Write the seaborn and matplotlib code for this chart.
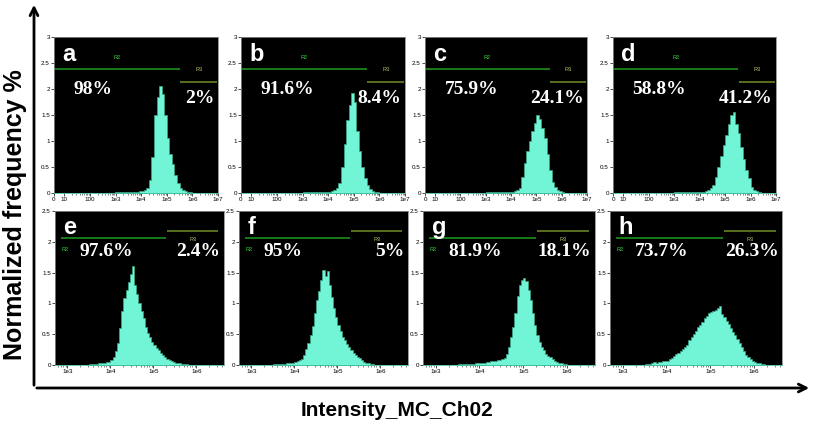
import numpy as np
import pandas as pd
import matplotlib
matplotlib.use("Agg")
import matplotlib.pyplot as plt
import matplotlib.ticker as mticker
from matplotlib.patches import FancyArrowPatch
import seaborn as sns


# ======================================================
# Data
# ======================================================
letters = ["a", "b", "c", "d", "e", "f", "g", "h"]
left_pct = ["98%", "91.6%", "75.9%", "58.8%", "97.6%", "95%", "81.9%", "73.7%"]
right_pct = ["2%", "8.4%", "24.1%", "41.2%", "2.4%", "5%", "18.1%", "26.3%"]

# top row: bins of 0.1 decade starting at 1e3
top_log_start, top_log_step = 3.0, 0.1
hist_a = [0.01, 0.01, 0.01, 0.01, 0.02, 0.01, 0.02, 0.02, 0.02, 0.03,
          0.03, 0.05, 0.1, 0.25, 0.7, 1.5, 1.85, 2.05, 1.9, 1.5,
          1.05, 0.75, 0.55, 0.35, 0.2, 0.1, 0.05, 0.03, 0.02, 0.01]
hist_b = [0.01, 0.01, 0.01, 0.01, 0.01, 0.02, 0.02, 0.02, 0.02, 0.02,
          0.02, 0.03, 0.05, 0.1, 0.2, 0.5, 0.95, 1.4, 1.7, 1.92,
          1.75, 1.2, 0.8, 0.5, 0.28, 0.15, 0.08, 0.04, 0.02, 0.01]
hist_c = [0.01, 0.01, 0.01, 0.01, 0.01, 0.01, 0.02, 0.02, 0.02, 0.02,
          0.02, 0.03, 0.05, 0.1, 0.3, 0.58, 0.8, 1.0, 1.2, 1.35,
          1.5, 1.42, 1.25, 1.05, 0.75, 0.45, 0.22, 0.12, 0.06, 0.03, 0.01]
hist_d = [0.01, 0.01, 0.01, 0.01, 0.01, 0.01, 0.01, 0.02, 0.02, 0.02,
          0.02, 0.02, 0.03, 0.05, 0.09, 0.15, 0.3, 0.5, 0.72, 0.92,
          1.12, 1.33, 1.5, 1.55, 1.32, 1.15, 0.88, 0.65, 0.45, 0.28,
          0.12, 0.06, 0.03, 0.01]

# bottom row: bins of 0.05 decade starting at 10**3.5
bot_log_start, bot_log_step = 3.5, 0.05
hist_e = [0.01, 0.01, 0.02, 0.02, 0.03, 0.03, 0.04, 0.04, 0.05, 0.05,
          0.08, 0.13, 0.22, 0.36, 0.6, 0.88, 1.08, 1.22, 1.35, 1.47,
          1.6, 1.3, 1.15, 1.0, 0.88, 0.76, 0.62, 0.52, 0.45, 0.38,
          0.33, 0.28, 0.24, 0.2, 0.16, 0.13, 0.1, 0.08, 0.06, 0.05,
          0.04, 0.03, 0.03, 0.02, 0.02, 0.01]
hist_f = [0.01, 0.01, 0.02, 0.02, 0.02, 0.02, 0.03, 0.03, 0.04, 0.04,
          0.05, 0.06, 0.08, 0.1, 0.16, 0.26, 0.36, 0.48, 0.64, 0.85,
          1.05, 1.2, 1.38, 1.55, 1.45, 1.52, 1.3, 1.1, 0.92, 0.78,
          0.65, 0.55, 0.46, 0.4, 0.34, 0.29, 0.24, 0.2, 0.16, 0.13,
          0.11, 0.08, 0.05, 0.04, 0.03, 0.02, 0.01]
hist_g = [0.01, 0.01, 0.01, 0.01, 0.02, 0.02, 0.02, 0.02, 0.03, 0.03,
          0.03, 0.04, 0.04, 0.05, 0.05, 0.06, 0.06, 0.07, 0.08, 0.08,
          0.09, 0.12, 0.18, 0.3, 0.45, 0.62, 0.85, 1.12, 1.3, 1.38,
          1.42, 1.36, 1.22, 1.05, 0.85, 0.65, 0.48, 0.38, 0.3, 0.24,
          0.18, 0.15, 0.13, 0.09, 0.07, 0.05, 0.04, 0.03, 0.02, 0.01]
hist_h = [0.01, 0.01, 0.02, 0.03, 0.05, 0.04, 0.05, 0.05, 0.06, 0.07,
          0.07, 0.09, 0.11, 0.14, 0.18, 0.2, 0.23, 0.26, 0.29, 0.33,
          0.4, 0.45, 0.5, 0.56, 0.61, 0.65, 0.7, 0.76, 0.8, 0.84,
          0.86, 0.88, 0.9, 0.92, 0.95, 0.82, 0.78, 0.72, 0.66, 0.6,
          0.53, 0.48, 0.42, 0.36, 0.29, 0.22, 0.17, 0.13, 0.1, 0.07,
          0.05, 0.04, 0.03, 0.02, 0.01]

histograms = [hist_a, hist_b, hist_c, hist_d, hist_e, hist_f, hist_g, hist_h]

# gates: (start, end, level)
top_r2 = (0, 10 ** 5.52, 2.38)
top_r3 = (10 ** 5.53, 10 ** 6.96, 2.13)
bot_r2 = (10 ** 2.85, 10 ** 5.29, 2.06)
bot_r3 = (10 ** 5.32, 10 ** 6.5, 2.18)

top_xticks = [0, 10, 100, 1e3, 1e4, 1e5, 1e6, 1e7]
top_xlabels = ["0", "10", "100", "1e3", "1e4", "1e5", "1e6", "1e7"]
bot_xticks = [1e3, 1e4, 1e5, 1e6]
bot_xlabels = ["1e3", "1e4", "1e5", "1e6"]
top_yticks = [0, 0.5, 1, 1.5, 2, 2.5, 3]
bot_yticks = [0, 0.5, 1, 1.5, 2, 2.5]


# ======================================================
# Style
# ======================================================
sns.set_theme(style="white")
plt.rcParams["font.family"] = ["Liberation Sans", "DejaVu Sans"]
plt.rcParams["text.color"] = "black"

CYAN = "#72f5d6"
EDGE = "#3aa888"
R2_COLOR = "#1f9a1f"
R3_COLOR = "#6f8f25"
R2_TEXT = "#33dd33"
R3_TEXT = "#c4c46a"
SERIF = ["Liberation Serif", "DejaVu Serif"]

fig = plt.figure(figsize=(8.14, 4.28), dpi=100)
W, H = 814, 428

# panel boxes in pixels: left, top, right, bottom
top_boxes = [(54, 37, 218, 193), (241, 37, 405, 193),
             (425, 37, 587, 193), (613, 37, 776, 193)]
bot_boxes = [(55, 211, 224, 365), (239, 211, 408, 365),
             (423, 211, 595, 365), (610, 211, 782, 365)]
boxes = top_boxes + bot_boxes


def xfrac(ax, x):
    return ax.transAxes.inverted().transform(ax.transData.transform((x, 0)))[0]


for i, (l, t, r, b) in enumerate(boxes):
    top = i < 4
    ax = fig.add_axes([l / W, 1 - b / H, (r - l) / W, (b - t) / H])
    ax.set_facecolor("black")

    heights = histograms[i]
    start, step = (top_log_start, top_log_step) if top else (bot_log_start, bot_log_step)
    edges = 10 ** (start + step * np.arange(len(heights) + 1))
    df = pd.DataFrame({"intensity": np.sqrt(edges[:-1] * edges[1:]),
                       "freq": heights})
    sns.histplot(data=df, x="intensity", weights="freq", bins=list(edges),
                 element="step", fill=True, color=CYAN, alpha=1,
                 linewidth=0.5, edgecolor=EDGE, ax=ax)
    ax.set_xlabel("")
    ax.set_ylabel("")

    if top:
        ax.set_xscale("symlog", linthresh=10, linscale=0.36)
        ax.set_xlim(0, 1e7)
        ax.set_ylim(0, 3)
        ax.set_xticks(top_xticks)
        ax.set_xticklabels(top_xlabels)
        ax.xaxis.set_minor_locator(mticker.FixedLocator(
            [m * 10 ** k for k in range(1, 7) for m in range(2, 10)]))
        ax.set_yticks(top_yticks)
        r2, r3 = top_r2, top_r3
    else:
        ax.set_xscale("log")
        ax.set_xlim(10 ** 2.71, 10 ** 6.64)
        ax.set_ylim(0, 2.5)
        ax.set_xticks(bot_xticks)
        ax.set_xticklabels(bot_xlabels)
        ax.xaxis.set_minor_locator(mticker.LogLocator(base=10, subs=np.arange(2, 10)))
        ax.xaxis.set_minor_formatter(mticker.NullFormatter())
        ax.set_yticks(bot_yticks)
        r2, r3 = bot_r2, bot_r3
    ax.yaxis.set_major_formatter(mticker.FormatStrFormatter("%g"))

    ax.tick_params(axis="both", which="major", labelsize=4.5, length=2,
                   width=0.5, pad=1, colors="black", bottom=True, left=True)
    ax.tick_params(axis="x", which="minor", length=1.2, width=0.4, bottom=True)
    for sp in ax.spines.values():
        sp.set_color("#8a8a8a")
        sp.set_linewidth(0.6)
    ax.spines["bottom"].set_color("#3fbf9f")

    # gates
    ax.hlines(r2[2], r2[0], r2[1], color=R2_COLOR, lw=1.1)
    ax.hlines(r3[2], r3[0], r3[1], color=R3_COLOR, lw=1.1)
    f3 = (xfrac(ax, r3[0]) + xfrac(ax, r3[1])) / 2
    f2 = (xfrac(ax, r2[0]) + xfrac(ax, r2[1])) / 2
    trans = ax.get_yaxis_transform()
    if top:
        ax.text(f2, r2[2] + 0.23, "R2", color=R2_TEXT, fontsize=4,
                ha="center", va="center", transform=trans)
        ax.text(f3, r3[2] + 0.25, "R3", color=R3_TEXT, fontsize=4,
                ha="center", va="center", transform=trans)
        ax.text(0.12, 2.0, left_pct[i], color="white", fontsize=14,
                fontweight="bold", family=SERIF, ha="left", va="center",
                transform=trans)
        ax.text(0.98, 1.82, right_pct[i], color="white", fontsize=14,
                fontweight="bold", family=SERIF, ha="right", va="center",
                transform=trans)
    else:
        ax.text(0.06, r2[2] - 0.18, "R2", color=R2_TEXT, fontsize=4,
                ha="center", va="center", transform=trans)
        ax.text(f3, r3[2] - 0.15, "R3", color=R3_TEXT, fontsize=4,
                ha="center", va="center", transform=trans)
        ax.text(0.145, 1.84, left_pct[i], color="white", fontsize=14,
                fontweight="bold", family=SERIF, ha="left", va="center",
                transform=trans)
        ax.text(0.98, 1.84, right_pct[i], color="white", fontsize=14,
                fontweight="bold", family=SERIF, ha="right", va="center",
                transform=trans)

    ax.text(0.05, 0.89, letters[i], color="white", fontsize=17,
            fontweight="bold", ha="left", va="center", transform=ax.transAxes)


# ======================================================
# Big axis arrows and labels
# ======================================================
corner = (34 / W, 1 - 388 / H)
fig.add_artist(FancyArrowPatch(corner, (34 / W, 1 - 2 / H),
                               transform=fig.transFigure, arrowstyle="->",
                               mutation_scale=14, lw=2, color="black"))
fig.add_artist(FancyArrowPatch(corner, (812 / W, 1 - 388 / H),
                               transform=fig.transFigure, arrowstyle="->",
                               mutation_scale=14, lw=2, color="black"))

fig.text(15 / W, 1 - 215 / H, "Normalized frequency %", rotation=90,
         fontsize=18, fontweight="bold", ha="center", va="center")
fig.text(397 / W, 1 - 410 / H, "Intensity_MC_Ch02",
         fontsize=15, fontweight="bold", ha="center", va="center")

fig.savefig("out.png", dpi=100)
